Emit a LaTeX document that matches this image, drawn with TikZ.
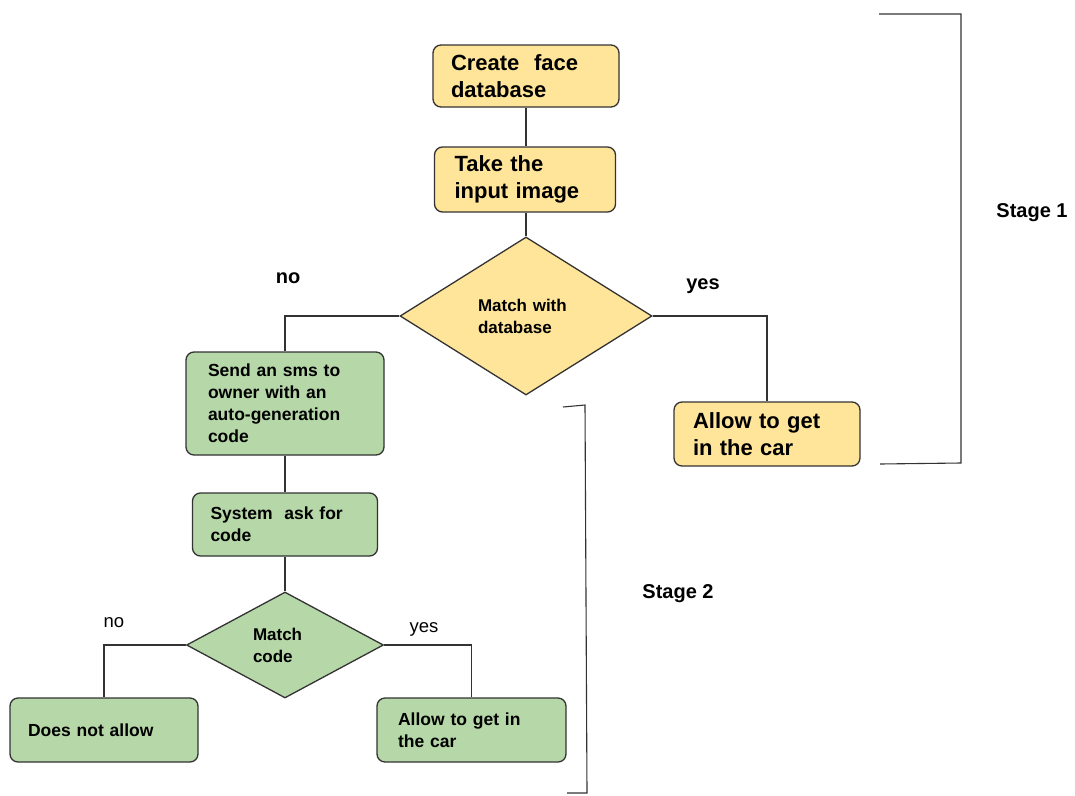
\documentclass[tikz,border=0pt]{standalone}
\usepackage{fontspec}
\setmainfont{Liberation Sans}
\usetikzlibrary{shapes.geometric}
\definecolor{yfill}{HTML}{FFE599}
\definecolor{gfill}{HTML}{B6D7A8}
\definecolor{edgec}{HTML}{333333}
\begin{document}
\begin{tikzpicture}[x=1pt,y=-1pt,
  box/.style={draw=edgec, line width=1.3pt, rounded corners=8pt, align=left, inner ysep=0pt},
  ybox/.style={box, fill=yfill, font=\fontsize{22}{27}\selectfont\bfseries},
  gbox/.style={box, fill=gfill, font=\fontsize{17.5}{22}\selectfont\bfseries},
  dia/.style={diamond, draw=edgec, line width=1.3pt, shape aspect=1.85, inner sep=0pt, align=left, font=\fontsize{17}{22}\selectfont\bfseries},
  conn/.style={draw=edgec, line width=1.3pt},
  brk/.style={draw=edgec, line width=1.1pt},
  lbl/.style={inner sep=0pt, font=\fontsize{20}{24}\selectfont\bfseries},
  slbl/.style={inner sep=0pt, font=\fontsize{18.5}{22}\selectfont}
]
\fill[white] (0,0) rectangle (1075,795);
\useasboundingbox (0,0) rectangle (1075,795);

% Stage 1 (yellow)
\node[ybox, minimum width=186pt, minimum height=62pt, inner xsep=18pt, text width=150pt] (b1) at (526,76) {Create~ face\\database};
\node[ybox, minimum width=181pt, minimum height=65pt, inner xsep=20pt, text width=141pt] (b2) at (525,179.5) {Take the\\input image};
\node[dia, fill=yfill, minimum width=252pt, minimum height=158pt, text width=96pt] (d1) at (526,316) {Match with\\database};
\node[ybox, minimum width=186pt, minimum height=64pt, inner xsep=19pt, text width=148pt] (b4) at (767,434) {Allow to get\\in the car};

% Stage 2 (green)
\node[gbox, minimum width=198pt, minimum height=103pt, inner xsep=22pt, text width=154pt] (b3) at (285,403.5) {Send an sms to\\owner with an\\auto-generation\\code};
\node[gbox, minimum width=185pt, minimum height=63pt, inner xsep=18pt, text width=149pt] (b5) at (285,524.5) {System~ ask for\\code};
\node[dia, fill=gfill, minimum width=197pt, minimum height=106pt, text width=64pt] (d2) at (285,645) {Match\\code};
\node[gbox, minimum width=188pt, minimum height=64pt, inner xsep=18pt, text width=152pt] (b6) at (104,730) {Does not allow};
\node[gbox, minimum width=189pt, minimum height=64pt, inner xsep=21pt, text width=147pt] (b7) at (471.5,730) {Allow to get in\\the car};

% connectors
\draw[conn] (b1.south) -- (b1.south |- b2.north);
\draw[conn] (d1.north |- b2.south) -- (d1.north);
\draw[conn] (d1.west) -| (b3.north);
\draw[conn] (d1.east) -| (b4.north);
\draw[conn] (b3.south) -- (b3.south |- b5.north);
\draw[conn] (b5.south) -- (d2.north);
\draw[conn] (d2.west) -| (b6.north);
\draw[conn] (d2.east) -| (b7.north);

% branch labels
\node[lbl] (no1) at (288,278) {no};
\node[lbl] (yes1) at (703,286) {yes};
\node[slbl] (no2) at (114,623) {no};
\node[slbl] (yes2) at (424,629) {yes};

% stage brackets
\draw[brk] (879,14) -- (961,14) -- (961,463) -- (880,464);
\draw[brk] (563,407) -- (585,405) -- (587,793) -- (567,793);
\node[lbl] (s1) at (1032,213) {Stage 1};
\node[lbl] (s2) at (678,594) {Stage 2};
\end{tikzpicture}
\end{document}
